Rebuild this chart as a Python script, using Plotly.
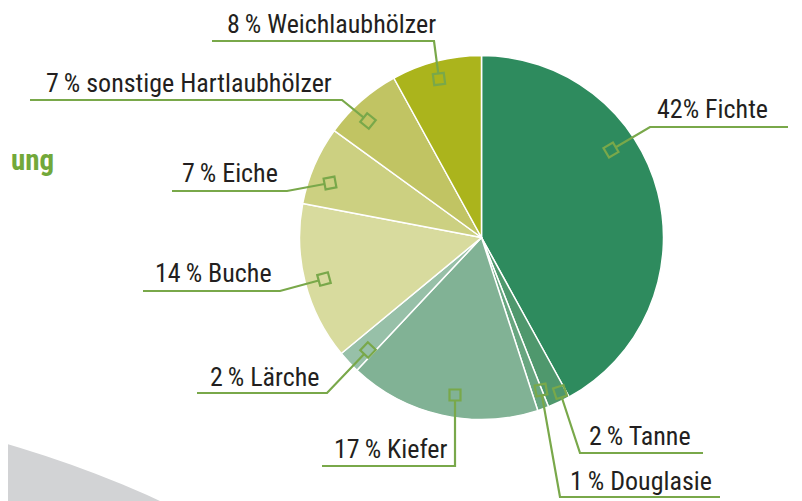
import math
import plotly.graph_objects as go

# ---- data ----
species = ["Fichte", "Tanne", "Douglasie", "Kiefer", "Lärche", "Buche", "Eiche",
           "sonstige Hartlaubhölzer", "Weichlaubhölzer"]
shares = [42, 2, 1, 17, 2, 14, 7, 7, 8]
label_texts = ["42% Fichte", "2\u2009% Tanne", "1\u2009% Douglasie", "17\u2009% Kiefer",
               "2\u2009% Lärche", "14\u2009% Buche", "7\u2009% Eiche",
               "7\u2009% sonstige Hartlaubhölzer", "8\u2009% Weichlaubhölzer"]
colors = ["#2E8B5E", "#4F986D", "#68A680", "#81B295", "#97C0A8",
          "#D8DB9E", "#CCD081", "#C1C463", "#ABB41C"]

# ---- layout (pixel positions of callouts, in window coordinates) ----
W, H = 802, 501
OFF = 8  # page body margin offset
CX, CY, R = 481.5, 237.5, 182
# marker, bend, end of leader ; text anchor (x, y, xanchor)
leaders = [
    ((611, 150), (650, 127), (788, 127), (655, 109, "left")),
    ((560, 392), (580, 453), (703, 453), (587, 436, "left")),
    ((541, 390), (560, 497), (720, 497), (568, 481, "left")),
    ((455, 395), (455, 466), (322, 466), (449, 449, "right")),
    ((368, 350), (327, 393), (197, 393), (321, 377, "right")),
    ((324, 279), (280, 291), (143, 291), (274, 273, "right")),
    ((330, 183), (287, 191), (172, 191), (280, 173, "right")),
    ((368, 121), (342, 100), (30, 100), (334, 83, "right")),
    ((439, 79), (434, 41), (212, 41), (438, 24, "right")),
]
LEAD = "#79A84A"
TXT = "#231F20"
FONT = "Liberation Sans Narrow, Roboto Condensed, Arial Narrow, sans-serif"


def px(x):
    return (x - OFF) / W


def py(y):
    return 1 - (y - OFF) / H


fig = go.Figure()
fig.add_trace(go.Pie(
    labels=species, values=shares, sort=False, direction="clockwise", rotation=0,
    marker=dict(colors=colors, line=dict(color="white", width=1.5)),
    textinfo="none", hoverinfo="label+percent", showlegend=False,
    domain=dict(x=[px(CX - R), px(CX + R)], y=[py(CY + R), py(CY - R)]),
))

shapes = []
# background grey arc (bottom-left)
gcx, gcy, gr = -302, 1508, 1108
shapes.append(dict(type="circle", xref="paper", yref="paper", layer="below",
                   x0=px(gcx - gr), x1=px(gcx + gr), y0=py(gcy + gr), y1=py(gcy - gr),
                   fillcolor="#D2D3D5", line=dict(width=0)))

annotations = []
S = 5.5  # half size of square
for (m, b, e, t), txt in zip(leaders, label_texts):
    dx, dy = b[0] - m[0], b[1] - m[1]
    L = math.hypot(dx, dy)
    ux, uy = dx / L, dy / L
    vx, vy = -uy, ux
    corners = []
    for a, c in [(1, 1), (1, -1), (-1, -1), (-1, 1)]:
        corners.append((m[0] + S * (a * ux + c * vx), m[1] + S * (a * uy + c * vy)))
    sq = "M " + " L ".join(f"{px(x):.5f},{py(y):.5f}" for x, y in corners) + " Z"
    shapes.append(dict(type="path", path=sq, xref="paper", yref="paper", layer="above",
                       line=dict(color=LEAD, width=2.2)))
    sx, sy = m[0] + ux * S, m[1] + uy * S
    path = f"M {px(sx):.5f},{py(sy):.5f} L {px(b[0]):.5f},{py(b[1]):.5f} L {px(e[0]):.5f},{py(e[1]):.5f}"
    shapes.append(dict(type="path", path=path, xref="paper", yref="paper", layer="above",
                       line=dict(color=LEAD, width=2.2)))
    annotations.append(dict(text=txt, x=px(t[0]), y=py(t[1]), xref="paper", yref="paper",
                            xanchor=t[2], yanchor="middle", showarrow=False,
                            font=dict(family=FONT, size=26, color=TXT)))

annotations.append(dict(text="<b>ung</b>", x=px(9), y=py(160), xref="paper", yref="paper",
                        xanchor="left", yanchor="middle", showarrow=False,
                        font=dict(family=FONT, size=29, color="#72A83A")))

fig.update_layout(width=W, height=H, margin=dict(l=0, r=0, t=0, b=0),
                  paper_bgcolor="white", plot_bgcolor="white",
                  shapes=shapes, annotations=annotations)
fig.write_html("out.html")
